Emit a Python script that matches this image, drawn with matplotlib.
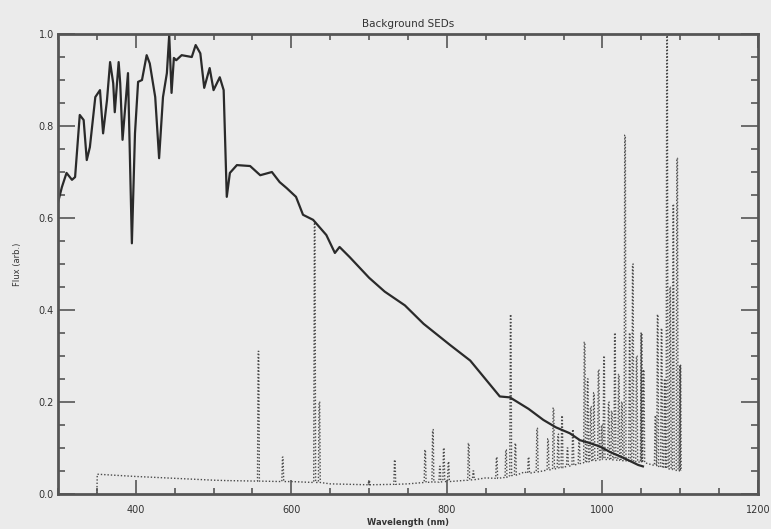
import numpy as np
import matplotlib
matplotlib.use('Agg')
import matplotlib.pyplot as plt
from matplotlib.ticker import MultipleLocator, FormatStrFormatter

### solar-type SED (solid) ###
sun_wl = [298, 305, 311, 318, 322, 328, 333, 337, 341, 348, 354, 358, 363, 367, 371, 373,
          378, 380, 383, 390, 395, 399, 403, 408, 414, 418, 425, 430, 435, 440, 443, 446,
          449, 452, 459, 472, 477, 483, 488, 495, 500, 508, 513, 517, 521, 530, 547, 560,
          575, 585, 594, 606, 615, 628, 645, 656, 662, 675, 700, 720, 746, 770, 804, 830,
          868, 881, 905, 924, 940, 958, 971, 985, 997, 1010, 1025, 1035, 1046, 1052]
sun_flux = [0.62, 0.667, 0.698, 0.683, 0.689, 0.824, 0.813, 0.726, 0.754, 0.863, 0.878, 0.784,
            0.856, 0.939, 0.893, 0.83, 0.939, 0.893, 0.77, 0.915, 0.545, 0.784, 0.896, 0.90,
            0.954, 0.936, 0.863, 0.73, 0.863, 0.915, 0.998, 0.872, 0.948, 0.943, 0.954, 0.95,
            0.976, 0.958, 0.883, 0.926, 0.878, 0.906, 0.878, 0.646, 0.698, 0.715, 0.713, 0.693,
            0.70, 0.678, 0.665, 0.646, 0.607, 0.596, 0.563, 0.524, 0.537, 0.515, 0.47, 0.44,
            0.41, 0.37, 0.324, 0.29, 0.212, 0.21, 0.185, 0.161, 0.145, 0.132, 0.117, 0.11,
            0.103, 0.091, 0.08, 0.072, 0.063, 0.06]

### sky background (dotted): continuum + emission lines ###
cont_wl = [350, 350.5, 400, 450, 500, 550, 600, 650, 700, 750, 800, 850, 900, 950, 1000, 1050, 1100]
cont_flux = [0.0, 0.043, 0.038, 0.034, 0.030, 0.028, 0.027, 0.022, 0.020, 0.022, 0.027, 0.035,
             0.048, 0.058, 0.075, 0.07, 0.05]

line_wl = [400, 520, 557.7, 589, 630, 636, 700, 733, 772, 782, 791, 796, 802, 828, 834, 864,
           876, 882, 888, 905, 916, 930, 937, 943, 948, 955, 962, 970, 977, 981, 985, 989,
           995, 999, 1002, 1008, 1012, 1016, 1021, 1025, 1029, 1035, 1039, 1044, 1050, 1053,
           1068, 1071, 1076, 1080, 1083, 1087, 1091, 1096, 1100]
line_base = [0.038, 0.029, 0.028, 0.027, 0.025, 0.025, 0.020, 0.021, 0.025, 0.026, 0.026, 0.027,
             0.027, 0.030, 0.031, 0.034, 0.036, 0.040, 0.041, 0.045, 0.048, 0.052, 0.054, 0.056,
             0.057, 0.060, 0.062, 0.066, 0.068, 0.070, 0.071, 0.072, 0.074, 0.075, 0.075, 0.075,
             0.074, 0.074, 0.073, 0.072, 0.072, 0.071, 0.070, 0.07, 0.069, 0.068, 0.062, 0.060,
             0.058, 0.056, 0.055, 0.054, 0.053, 0.051, 0.050]
line_peak = [0.02, 0.03, 0.31, 0.08, 0.59, 0.20, 0.03, 0.074, 0.096, 0.14, 0.06, 0.10, 0.07,
             0.11, 0.05, 0.08, 0.096, 0.39, 0.11, 0.08, 0.143, 0.12, 0.187, 0.13, 0.17, 0.10,
             0.14, 0.12, 0.33, 0.25, 0.19, 0.22, 0.27, 0.15, 0.30, 0.20, 0.18, 0.35, 0.26,
             0.20, 0.78, 0.35, 0.50, 0.30, 0.35, 0.27, 0.17, 0.39, 0.36, 0.25, 1.0, 0.45,
             0.63, 0.73, 0.28]

## build dotted sky path (continuum with spikes, each spike ~2 nm wide)
pts = list(zip(cont_wl, cont_flux))
for w, b, p in zip(line_wl, line_base, line_peak):
    pts += [(w - 1.2, b), (w - 0.4, max(p, b)), (w + 0.4, max(p, b)), (w + 1.2, b)]
pts.sort(key=lambda t: t[0])
sky_wl = [t[0] for t in pts]
sky_flux = [t[1] for t in pts]

### Figure ###
bg = '#ebebeb'
ink = '#2a2a2a'
fig = plt.figure(figsize=(7.71, 5.29), dpi=100, facecolor=bg)
ax = fig.add_axes([0.0752, 0.0662, 0.908, 0.8695])
ax.set_facecolor(bg)

ax.plot(sky_wl, sky_flux, color='#4a4a4a', lw=1.0, linestyle=(0, (1, 1.4)))
ax.plot(sun_wl, sun_flux, color=ink, lw=1.6)

ax.set_xlim(300, 1200)
ax.set_ylim(0, 1.0)
ax.xaxis.set_major_locator(MultipleLocator(200))
ax.xaxis.set_minor_locator(MultipleLocator(50))
ax.yaxis.set_major_locator(MultipleLocator(0.2))
ax.yaxis.set_minor_locator(MultipleLocator(0.05))
ax.yaxis.set_major_formatter(FormatStrFormatter('%.1f'))
ax.tick_params(which='both', direction='in', top=True, right=True, color='#555555',
               labelsize=7, labelcolor='#333333')
ax.tick_params(axis='x', which='major', length=10, width=1.2, pad=8)
ax.tick_params(axis='x', which='minor', length=4, width=1.2)
ax.tick_params(axis='y', which='major', length=12, width=1.2, pad=3)
ax.tick_params(axis='y', which='minor', length=5, width=1.2)
for s in ax.spines.values():
    s.set_color('#555555')
    s.set_linewidth(2)

ax.set_title('Background SEDs', fontsize=7.5, color='#333333', pad=5)
ax.set_xlabel('Wavelength (nm)', fontsize=6, color='#333333', fontweight='bold', labelpad=2)
ax.set_ylabel('Flux (arb.)', fontsize=6, color='#333333', labelpad=12)

fig.savefig('out.png', dpi=100, facecolor=bg)
